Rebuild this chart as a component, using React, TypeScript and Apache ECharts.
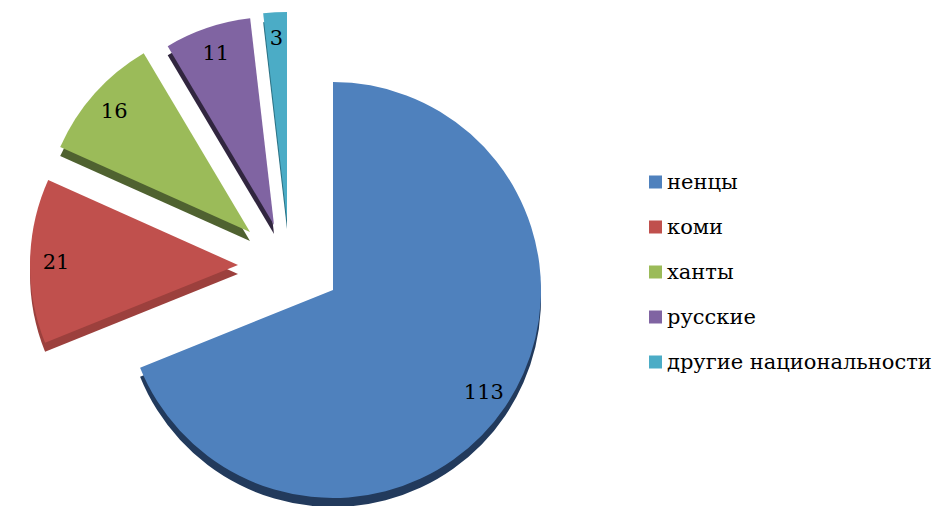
import React, { useEffect, useRef } from 'react';
import * as echarts from 'echarts';

// ---- data ----
const categories: string[] = ['ненцы', 'коми', 'ханты', 'русские', 'другие национальности'];
const values: number[] = [113, 21, 16, 11, 3];

// ---- styles / layout ----
const faceColors = ['#4F81BD', '#C0504D', '#9BBB59', '#8064A2', '#4BACC6'];
const sideColors = ['#223A5C', '#9C403D', '#4F6230', '#31263F', '#2C7285'];
// explode centres for each slice (layout only)
const centers: [number, number][] = [
  [333, 290],
  [238, 265],
  [250, 232],
  [274, 225],
  [287, 220],
];
const R = 208;
const DEPTH = 9;
const FONT = 'DejaVu Serif';

export default function App() {
  const ref = useRef<HTMLDivElement>(null);

  useEffect(() => {
    if (!ref.current) return;
    const chart = echarts.init(ref.current, undefined, { renderer: 'svg' });

    const series: any[] = [];
    const base = {
      type: 'pie',
      silent: true,
      startAngle: 90,
      clockwise: true,
      avoidLabelOverlap: false,
      labelLine: { show: false },
      emphasis: { disabled: true },
      itemStyle: { borderWidth: 0 },
    };
    values.forEach((_, i) => {
      const mk = (kind: 'side' | 'face' | 'label') =>
        categories.map((name, j) => ({
          name,
          value: values[j],
          itemStyle: {
            color:
              j === i && kind === 'side'
                ? sideColors[j]
                : j === i && kind === 'face'
                ? faceColors[j]
                : 'transparent',
          },
          label: { show: kind === 'label' && j === i },
        }));
      const [cx, cy] = centers[i];
      series.push({
        ...base,
        name: 'side' + i,
        z: 1,
        center: [cx, cy + DEPTH],
        radius: [0, R],
        data: mk('side'),
        label: { show: false },
      });
      series.push({
        ...base,
        name: 'face' + i,
        z: 2,
        center: [cx, cy],
        radius: [0, R],
        data: mk('face'),
        label: { show: false },
      });
      series.push({
        ...base,
        name: 'label' + i,
        z: 3,
        center: [cx, cy],
        radius: [150, R],
        data: mk('label'),
        label: {
          show: true,
          position: 'inside',
          formatter: '{c}',
          fontFamily: FONT,
          fontSize: 21,
          color: '#000',
        },
      });
    });

    chart.setOption({
      animation: false,
      backgroundColor: '#ffffff',
      legend: {
        orient: 'vertical',
        left: 649,
        top: 170,
        padding: 0,
        icon: 'rect',
        itemWidth: 13,
        itemHeight: 13,
        itemGap: 21,
        selectedMode: false,
        data: categories.map((name, i) => ({ name, itemStyle: { color: faceColors[i] } })),
        textStyle: { fontFamily: FONT, fontSize: 21, color: '#000', lineHeight: 24 },
      },
      series,
    });

    return () => chart.dispose();
  }, []);

  return (
    <div
      ref={ref}
      style={{ position: 'absolute', left: 0, top: 0, width: 945, height: 506 }}
    />
  );
}
